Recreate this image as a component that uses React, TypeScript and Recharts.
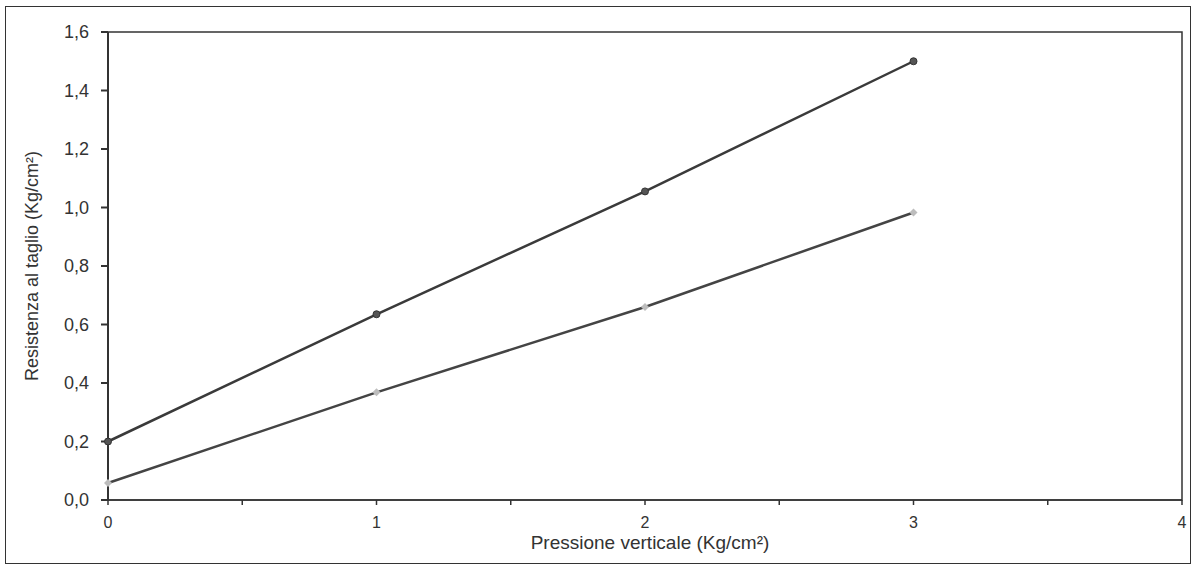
import { Label, Line, LineChart, ReferenceArea, XAxis, YAxis } from "recharts";

// pressione verticale (Kg/cm²)
const pressure = [0, 1, 2, 3];
// resistenza al taglio, serie scura e serie chiara
const darkSeries = [0.2, 0.635, 1.055, 1.5];
const lightSeries = [0.058, 0.368, 0.66, 0.983];

const xTicks = [0, 0.5, 1, 1.5, 2, 2.5, 3, 3.5, 4];
const yTicks = [0, 0.2, 0.4, 0.6, 0.8, 1.0, 1.2, 1.4, 1.6];

const rows = pressure.map((p, i) => ({
  p,
  dark: darkSeries[i],
  light: lightSeries[i],
}));

const ink = "#333";
const font = "'Liberation Sans', Arial, sans-serif";

const fmtY = (v: number) => v.toFixed(1).replace(".", ",");
const fmtX = (v: number) => (Number.isInteger(v) ? String(v) : "");

function XTick(props: any) {
  const { x, y, payload } = props;
  const txt = fmtX(payload.value);
  if (!txt) return null;
  return (
    <text x={x} y={y} dy="0.71em" textAnchor="middle" fill={ink} fontSize={16} fontFamily={font}>
      {txt}
    </text>
  );
}

function Diamond(props: any) {
  const { cx, cy } = props;
  if (cx == null || cy == null) return null;
  const s = 4;
  return (
    <path
      d={`M${cx},${cy - s}L${cx + s},${cy}L${cx},${cy + s}L${cx - s},${cy}Z`}
      fill="#bdbdbd"
      stroke="none"
    />
  );
}

export default function App() {
  return (
    <div style={{ position: "absolute", left: 0, top: 0, width: 1195, height: 566, background: "#fff" }}>
      <div
        style={{
          position: "absolute",
          left: 5,
          top: 6,
          width: 1184,
          height: 556,
          border: `1px solid ${ink}`,
        }}
      />
      <div style={{ position: "absolute", left: 0, top: 0 }}>
        <LineChart
          width={1195}
          height={566}
          data={rows}
          margin={{ top: 32, right: 13, left: 48, bottom: 6 }}
          style={{ fontFamily: font }}
        >
          <ReferenceArea
            x1={0}
            x2={4}
            y1={0}
            y2={1.6}
            fill="none"
            stroke={ink}
            strokeWidth={1.5}
            ifOverflow="visible"
          />
          <XAxis
            type="number"
            dataKey="p"
            domain={[0, 4]}
            ticks={xTicks}
            interval={0}
            height={60}
            tickSize={5}
            tickMargin={12}
            stroke={ink}
            strokeWidth={1.5}
            tick={<XTick />}
          >
            <Label
              content={() => (
                <text x={650} y={549} textAnchor="middle" fill={ink} fontSize={19} fontFamily={font}>
                  Pressione verticale (Kg/cm²)
                </text>
              )}
            />
          </XAxis>
          <YAxis
            type="number"
            domain={[0, 1.6]}
            ticks={yTicks}
            interval={0}
            tickFormatter={fmtY}
            width={60}
            tickSize={7}
            tickMargin={12}
            stroke={ink}
            strokeWidth={2}
            tick={{ fill: ink, fontSize: 18, fontFamily: font }}
          >
            <Label
              content={() => (
                <text
                  x={38}
                  y={266}
                  transform="rotate(-90 38 266)"
                  textAnchor="middle"
                  fill={ink}
                  fontSize={18}
                  fontFamily={font}
                >
                  Resistenza al taglio (Kg/cm²)
                </text>
              )}
            />
          </YAxis>
          <Line
            type="linear"
            dataKey="light"
            stroke="#444"
            strokeWidth={2.5}
            dot={<Diamond />}
            activeDot={false}
            isAnimationActive={false}
          />
          <Line
            type="linear"
            dataKey="dark"
            stroke="#3a3a3a"
            strokeWidth={2.5}
            dot={{ r: 3.5, fill: "#555", stroke: "#333", strokeWidth: 1 }}
            activeDot={false}
            isAnimationActive={false}
          />
        </LineChart>
      </div>
    </div>
  );
}
